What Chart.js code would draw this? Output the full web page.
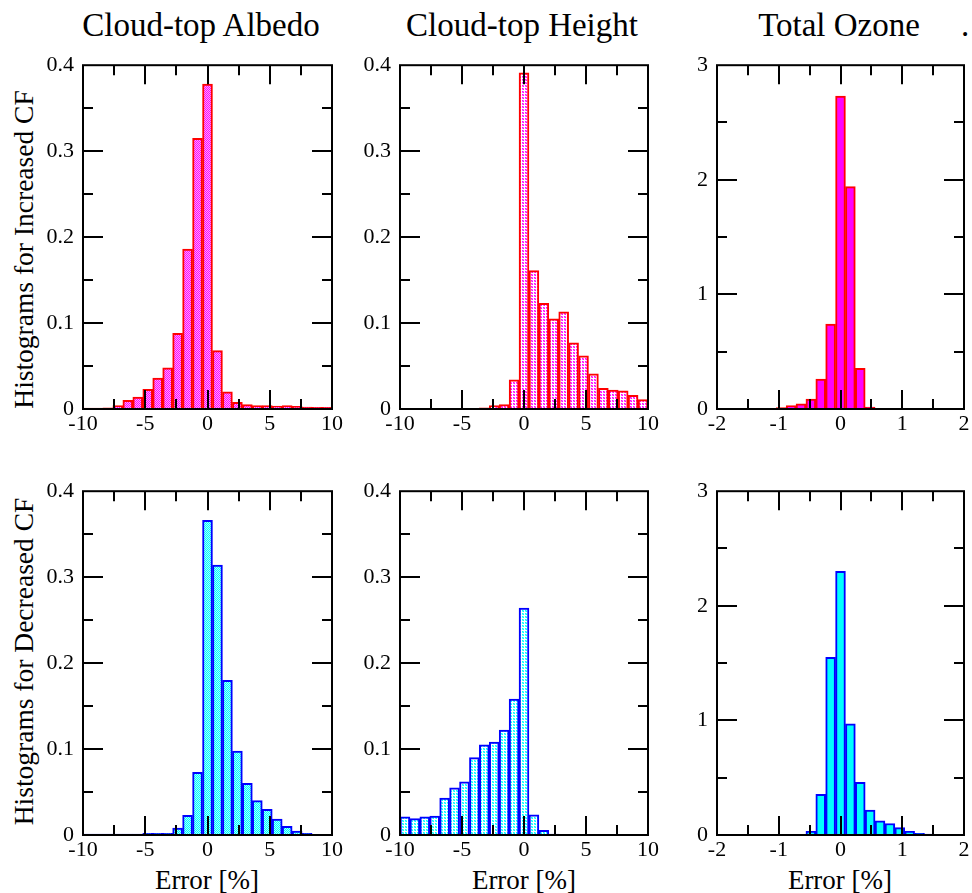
<!DOCTYPE html>
<html>
<head>
<meta charset="utf-8">
<script src="https://cdn.jsdelivr.net/npm/chart.js@4.4.1/dist/chart.umd.min.js"></script>
<style>
  html, body { margin: 0; padding: 0; background: #fff; width: 972px; height: 893px; overflow: hidden; }
  body { position: relative; font-family: "Liberation Serif", "Times New Roman", "DejaVu Serif", serif; color: #000; }
  canvas { position: absolute; }
  .ttl { position: absolute; font-size: 33px; line-height: 33px; white-space: nowrap; text-align: center; width: 400px; }
  .row { position: absolute; font-size: 27.5px; line-height: 29px; white-space: nowrap; text-align: center; width: 500px; height: 29px; transform: rotate(-90deg); }
  .xl { position: absolute; font-size: 27px; line-height: 27px; white-space: nowrap; text-align: center; width: 300px; }
</style>
</head>
<body>
<div class="ttl" style="left:1px; top:9px;">Cloud-top Albedo</div>
<div class="ttl" style="left:322px; top:9px;">Cloud-top Height</div>
<div class="ttl" style="left:639px; top:9px;">Total Ozone</div>
<div class="ttl" style="left:765px; top:9px; width:400px;">.</div>
<div class="row" style="left:-227px; top:235px;">Histograms for Increased CF</div>
<div class="row" style="left:-227px; top:647px;">Histograms for Decreased CF</div>
<div class="xl" style="left:57px; top:867px;">Error [%]</div>
<div class="xl" style="left:374px; top:867px;">Error [%]</div>
<div class="xl" style="left:690px; top:867px;">Error [%]</div>

<canvas id="c1"></canvas>
<canvas id="c2"></canvas>
<canvas id="c3"></canvas>
<canvas id="c4"></canvas>
<canvas id="c5"></canvas>
<canvas id="c6"></canvas>

<script>
// ---- Bin centres (x) ----
const binsError = [-9.6,-8.8,-8.0,-7.2,-6.4,-5.6,-4.8,-4.0,-3.2,-2.4,-1.6,-0.8,0,0.8,1.6,2.4,3.2,4.0,4.8,5.6,6.4,7.2,8.0,8.8,9.6];
const binsOzone = [-1.92,-1.76,-1.6,-1.44,-1.28,-1.12,-0.96,-0.8,-0.64,-0.48,-0.32,-0.16,0,0.16,0.32,0.48,0.64,0.8,0.96,1.12,1.28,1.44,1.6,1.76,1.92];

// ---- Histogram values: increased cloud fraction ----
const albedoIncreased = [0.001,0.001,0.0015,0.004,0.010,0.014,0.023,0.036,0.048,0.088,0.186,0.315,0.378,0.068,0.020,0.0077,0.005,0.004,0.004,0.0035,0.004,0.003,0.0023,0.002,0.002];
const heightIncreased = [0,0,0,0,0,0,0,0.0005,0.0015,0.004,0.005,0.034,0.391,0.161,0.123,0.105,0.113,0.077,0.062,0.041,0.024,0.022,0.021,0.016,0.011];
const ozoneIncreased  = [0.002,0.002,0.002,0.003,0.003,0.005,0.012,0.029,0.046,0.087,0.26,0.74,2.73,1.94,0.355,0.017,0.002,0,0,0,0,0,0,0,0];

// ---- Histogram values: decreased cloud fraction ----
const albedoDecreased = [0.001,0.001,0.001,0.001,0.001,0.001,0.002,0.002,0.002,0.008,0.023,0.073,0.366,0.314,0.180,0.0975,0.060,0.040,0.030,0.0185,0.010,0.0046,0.002,0,0];
const heightDecreased = [0.021,0.019,0.021,0.022,0.043,0.055,0.062,0.090,0.105,0.108,0.122,0.158,0.264,0.0235,0.0054,0.001,0.0005,0,0,0,0,0,0,0,0];
const ozoneDecreased  = [0,0,0,0,0,0,0,0.002,0.005,0.032,0.355,1.55,2.30,0.97,0.46,0.217,0.124,0.10,0.064,0.032,0.015,0.009,0.005,0,0];

// ---- Axis tick marks ----
const xTicksError = [-7.5,-5,-2.5,0,2.5,5,7.5];
const xTicksOzone = [-1.5,-1,-0.5,0,0.5,1,1.5];
const yTicksFrac  = [0.05,0.1,0.15,0.2,0.25,0.3,0.35];
const yTicksOzone = [0.5,1,1.5,2,2.5];

function makePattern(size, bg, cells) {
  const c = document.createElement('canvas');
  c.width = size; c.height = size;
  const g = c.getContext('2d');
  g.fillStyle = bg; g.fillRect(0, 0, size, size);
  cells.forEach(([x, y, col]) => { g.fillStyle = col; g.fillRect(x, y, 1, 1); });
  return g.createPattern(c, 'repeat');
}
const pinkDense  = makePattern(2, '#ffa8ff', [[0,0,'#ff00ff'],[1,1,'#ff00ff']]);
const pinkSparse = makePattern(3, '#ffffff', [[0,0,'#ff00ff'],[1,0,'#ff66ff'],[0,1,'#ff66ff'],[1,1,'#ff00ff']]);
const cyanDense  = makePattern(2, '#a8ffff', [[0,0,'#00ffff'],[1,1,'#00ffff']]);
const cyanSparse = makePattern(3, '#ffffff', [[0,0,'#00ffff'],[1,0,'#66ffff'],[0,1,'#66ffff'],[1,1,'#00ffff']]);

const frameTicks = {
  id: 'frameTicks',
  afterDatasetsDraw(chart, args, o) {
    const { ctx, chartArea: a, scales: { x, y } } = chart;
    ctx.save();
    ctx.strokeStyle = '#000';
    ctx.lineWidth = 2;
    ctx.beginPath();
    o.xt.forEach(v => {
      const p = Math.round(x.getPixelForValue(v));
      const len = (Math.abs(v / o.xMajor - Math.round(v / o.xMajor)) < 1e-6) ? 19 : 10;
      ctx.moveTo(p, a.bottom); ctx.lineTo(p, a.bottom - len);
      ctx.moveTo(p, a.top); ctx.lineTo(p, a.top + len);
    });
    o.yt.forEach(v => {
      const p = Math.round(y.getPixelForValue(v));
      const len = (Math.abs(v / o.yMajor - Math.round(v / o.yMajor)) < 1e-6) ? 20 : 10;
      ctx.moveTo(a.left, p); ctx.lineTo(a.left + len, p);
      ctx.moveTo(a.right, p); ctx.lineTo(a.right - len, p);
    });
    ctx.stroke();
    ctx.strokeRect(a.left, a.top, a.right - a.left, a.bottom - a.top);
    ctx.restore();
  }
};

const tickFont = { family: '"Liberation Serif", "Times New Roman", "DejaVu Serif", serif', size: 22 };

function panel(id, L, T, W, H, bins, vals, fill, border, xr, yr) {
  const PL = 70, PT = 20, PR = 15, PB = 45;
  const cv = document.getElementById(id);
  cv.width = W + PL + PR; cv.height = H + PT + PB;
  cv.style.left = (L - PL) + 'px'; cv.style.top = (T - PT) + 'px';
  new Chart(cv, {
    type: 'bar',
    data: {
      datasets: [{
        data: bins.map((b, i) => ({ x: b, y: vals[i] })),
        backgroundColor: fill,
        borderColor: border,
        borderWidth: 2,
        borderSkipped: 'start',
        barPercentage: 1,
        categoryPercentage: 1,
        grouped: false
      }]
    },
    options: {
      responsive: false,
      animation: false,
      devicePixelRatio: 1,
      layout: { autoPadding: false, padding: { left: 0, top: PT, right: PR, bottom: 0 } },
      plugins: {
        legend: { display: false },
        tooltip: { enabled: false },
        frameTicks: { xt: xr.marks, yt: yr.marks, xMajor: xr.step, yMajor: yr.step }
      },
      scales: {
        x: {
          type: 'linear', min: xr.min, max: xr.max, offset: false,
          grid: { display: false, drawTicks: false },
          border: { display: false },
          ticks: { stepSize: xr.step, color: '#000', font: tickFont, padding: 2, maxRotation: 0, autoSkip: false },
          afterFit: s => { s.height = PB; }
        },
        y: {
          min: yr.min, max: yr.max,
          grid: { display: false, drawTicks: false },
          border: { display: false },
          ticks: { stepSize: yr.step, color: '#000', font: tickFont, padding: 9 },
          afterFit: s => { s.width = PL; }
        }
      }
    },
    plugins: [frameTicks]
  });
}

const xErr = { min: -10, max: 10, step: 5, marks: xTicksError };
const xOz  = { min: -2, max: 2, step: 1, marks: xTicksOzone };
const yFr  = { min: 0, max: 0.4, step: 0.1, marks: yTicksFrac };
const yOz  = { min: 0, max: 3, step: 1, marks: yTicksOzone };

panel('c1', 83, 63, 249, 346, binsError, albedoIncreased, pinkDense, '#ff0000', xErr, yFr);
panel('c2', 400, 63, 248, 346, binsError, heightIncreased, pinkSparse, '#ff0000', xErr, yFr);
panel('c3', 717, 63, 247, 346, binsOzone, ozoneIncreased, '#ff00ff', '#ff0000', xOz, yOz);
panel('c4', 83, 489, 249, 346, binsError, albedoDecreased, cyanDense, '#0000ff', xErr, yFr);
panel('c5', 400, 489, 248, 346, binsError, heightDecreased, cyanSparse, '#0000ff', xErr, yFr);
panel('c6', 717, 489, 247, 346, binsOzone, ozoneDecreased, '#00ffff', '#0000ff', xOz, yOz);
</script>
</body>
</html>
